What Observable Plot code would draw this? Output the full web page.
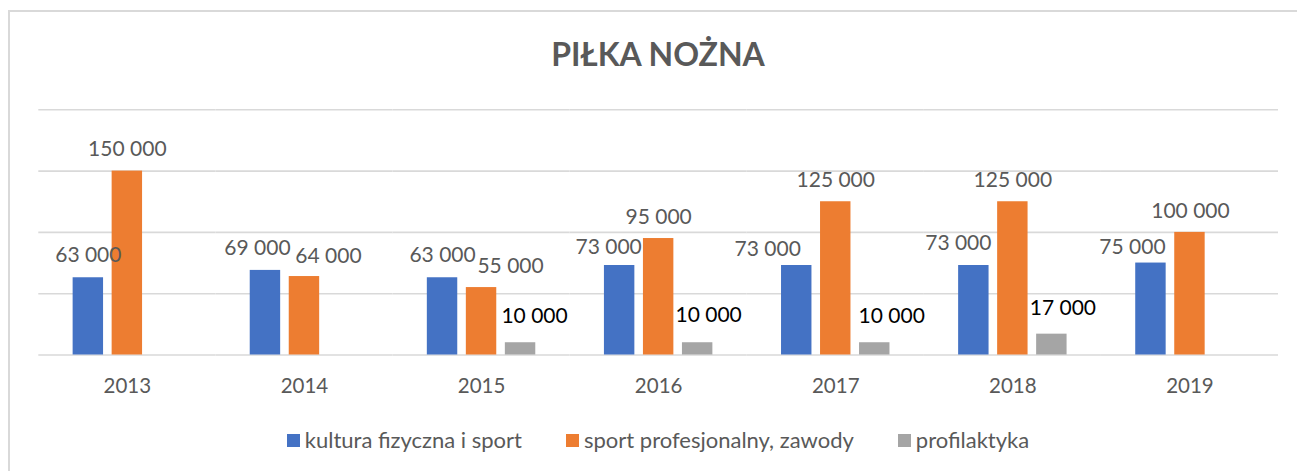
<!DOCTYPE html>
<html>
<head>
<meta charset="utf-8">
<script src="https://cdn.jsdelivr.net/npm/d3@7"></script>
<script src="https://cdn.jsdelivr.net/npm/@observablehq/plot@0.6"></script>
<style>
  html, body { margin: 0; padding: 0; background: #ffffff; }
  body { width: 1297px; height: 471px; position: relative; overflow: hidden; font-family: Lato, "Open Sans", sans-serif; }
  #frame { position: absolute; left: 8px; top: 10px; right: 0; bottom: 0; border-top: 2px solid #D9D9D9; border-left: 2px solid #D9D9D9; pointer-events: none; }
  #chart { position: absolute; left: 0; top: 0; width: 1297px; }
  #title { box-sizing: border-box; height: 90px; margin-left: 38px; width: 1240px; padding-top: 38px; text-align: center; font-size: 32px; line-height: 32px; font-weight: bold; color: #595959; }
  #legend { box-sizing: border-box; margin-left: 38px; width: 1240px; padding-top: 22px; display: flex; justify-content: center; gap: 44px; font-size: 22px; line-height: 26px; color: #595959; }
  .item { display: flex; align-items: center; gap: 5px; }
  .sw { width: 13px; height: 13px; display: inline-block; }
  svg { display: block; }
</style>
</head>
<body>
<div id="frame"></div>
<div id="chart">
  <div id="title">PIŁKA NOŻNA</div>
  <div id="plot"></div>
  <div id="legend"></div>
</div>
<script>
const years = ["2013", "2014", "2015", "2016", "2017", "2018", "2019"];
const seriesNames = ["kultura fizyczna i sport", "sport profesjonalny, zawody", "profilaktyka"];
const kultura = [63000, 69000, 63000, 73000, 73000, 73000, 75000];
const sportProfesjonalny = [150000, 64000, 55000, 95000, 125000, 125000, 100000];
const profilaktyka = [null, null, 10000, 10000, 10000, 17000, null];
const yTicks = [0, 50000, 100000, 150000, 200000];
const seriesColors = ["#4472C4", "#ED7D31", "#A5A5A5"];
const labelColors = ["#595959", "#595959", "#000000"];

// label layout nudges (dx, dy in px) per year / series, mimicking the original label placement
const labelNudges = {
  "2013": [[0, -22], [0, -21.5], [0, -26]],
  "2014": [[-8, -22], [24, -20], [0, -26]],
  "2015": [[0, -22], [29, -21.5], [14, -26]],
  "2016": [[-11, -18.5], [0, -21.5], [11, -27.5]],
  "2017": [[-29, -16.5], [0, -21.5], [17, -26.5]],
  "2018": [[-15.5, -22], [0, -21.5], [11, -25.5]],
  "2019": [[-18.5, -16], [0.5, -21], [0, -26]]
};

const seriesValues = [kultura, sportProfesjonalny, profilaktyka];
const rows = [];
years.forEach((yr, i) => {
  seriesValues.forEach((vals, s) => {
    if (vals[i] != null) rows.push({year: yr, series: seriesNames[s], si: s, value: vals[i]});
  });
});

const locale = d3.formatLocale({decimal: ",", thousands: " ", grouping: [3], currency: ["", ""]});
const fmt = locale.format(",d");

const labelMarks = rows.map(d => Plot.text([d], {
  fx: "year", x: "series", y: "value",
  text: r => fmt(r.value),
  dx: labelNudges[d.year][d.si][0],
  dy: labelNudges[d.year][d.si][1],
  fill: labelColors[d.si],
  fontSize: 21,
  fontFamily: "Lato"
}));

const chart = Plot.plot({
  width: 1297,
  height: 315,
  marginLeft: 38.3,
  marginRight: 19,
  marginTop: 19.3,
  marginBottom: 50.5,
  fx: {domain: years, padding: 0, round: false, label: null},
  x: {domain: seriesNames, paddingInner: 0.22, paddingOuter: 0.88, round: false, axis: null},
  y: {domain: [0, 200000], axis: null},
  color: {domain: seriesNames, range: seriesColors},
  style: {fontFamily: "Lato", fontSize: "20px", color: "#595959", background: "transparent", overflow: "visible"},
  marks: [
    Plot.ruleY(yTicks, {stroke: "#D9D9D9", strokeWidth: 1.6}),
    Plot.barY(rows, {fx: "year", x: "series", y: "value", fill: "series"}),
    ...labelMarks,
    Plot.axisFx({anchor: "bottom", tickSize: 0, tickPadding: 23, fontSize: 20.5, label: null, fill: "#595959"})
  ]
});
document.getElementById("plot").appendChild(chart);

const legend = document.getElementById("legend");
seriesNames.forEach((name, i) => {
  const item = document.createElement("div");
  item.className = "item";
  const sw = document.createElement("span");
  sw.className = "sw";
  sw.style.background = seriesColors[i];
  const t = document.createElement("span");
  t.textContent = name;
  item.appendChild(sw);
  item.appendChild(t);
  legend.appendChild(item);
});
</script>
</body>
</html>
